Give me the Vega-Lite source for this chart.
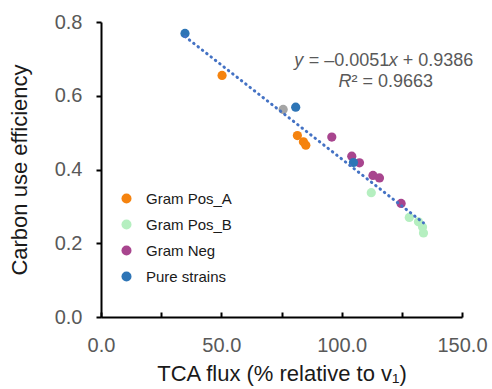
{
  "$schema": "https://vega.github.io/schema/vega-lite/v6.json",
  "width": 361,
  "height": 295,
  "autosize": {"type": "none"},
  "padding": {"left": 101, "top": 22, "right": 30, "bottom": 72},
  "config": {
    "view": {"stroke": null},
    "font": "Liberation Sans",
    "axis": {
      "grid": false,
      "domainColor": "#000000",
      "domainWidth": 2,
      "tickColor": "#000000",
      "tickWidth": 2,
      "labelColor": "#595959",
      "labelFontSize": 20,
      "labelFont": "Liberation Sans",
      "titleFont": "Liberation Sans",
      "titleFontSize": 22,
      "titleFontWeight": "normal",
      "titleColor": "#1a1a1a",
      "labelFlush": false,
      "labelOverlap": false
    }
  },
  "datasets": {
    "pts": [
      {"group": "Pure strains", "tca": 34.9, "cue": 0.769},
      {"group": "Gram Pos_A", "tca": 50.3, "cue": 0.655},
      {"group": "Other", "tca": 75.7, "cue": 0.563},
      {"group": "Pure strains", "tca": 80.9, "cue": 0.569},
      {"group": "Gram Pos_A", "tca": 81.6, "cue": 0.492},
      {"group": "Gram Pos_A", "tca": 84.1, "cue": 0.475},
      {"group": "Gram Pos_A", "tca": 85.1, "cue": 0.466},
      {"group": "Gram Neg", "tca": 95.9, "cue": 0.488},
      {"group": "Gram Neg", "tca": 104.2, "cue": 0.436},
      {"group": "Gram Neg", "tca": 107.4, "cue": 0.418},
      {"group": "Pure strains", "tca": 104.9, "cue": 0.419},
      {"group": "Gram Neg", "tca": 113.0, "cue": 0.384},
      {"group": "Gram Neg", "tca": 115.7, "cue": 0.377},
      {"group": "Gram Pos_B", "tca": 112.3, "cue": 0.337},
      {"group": "Gram Neg", "tca": 124.7, "cue": 0.308},
      {"group": "Gram Pos_B", "tca": 128.1, "cue": 0.270},
      {"group": "Gram Pos_B", "tca": 131.9, "cue": 0.258},
      {"group": "Gram Pos_B", "tca": 133.6, "cue": 0.244},
      {"group": "Gram Pos_B", "tca": 134.0, "cue": 0.228}
    ],
    "trend": [
      {"tca": 34.9, "cue": 0.7606},
      {"tca": 134.0, "cue": 0.2552}
    ]
  },
  "layer": [
    {
      "data": {"name": "pts"},
      "mark": {"type": "circle", "size": 85, "opacity": 1},
      "encoding": {
        "x": {
          "field": "tca", "type": "quantitative",
          "scale": {"domain": [0, 150], "nice": false, "zero": false},
          "axis": {
            "values": [0, 25, 50, 75, 100, 125, 150],
            "labelExpr": "datum.value % 50 === 0 ? format(datum.value, '.1f') : ''",
            "tickSize": -5,
            "labelPadding": 23,
            "titlePadding": 8,
            "title": "TCA flux (% relative to v₁)"
          }
        },
        "y": {
          "field": "cue", "type": "quantitative",
          "scale": {"domain": [0, 0.8], "nice": false},
          "axis": {
            "values": [0, 0.2, 0.4, 0.6, 0.8],
            "format": ".1f",
            "tickSize": 5,
            "labelPadding": 14,
            "titlePadding": 23,
            "title": "Carbon use efficiency"
          }
        },
        "color": {
          "field": "group", "type": "nominal",
          "scale": {
            "domain": ["Gram Pos_A", "Gram Pos_B", "Gram Neg", "Pure strains", "Other"],
            "range": ["#F5830F", "#B5EFC0", "#A8458E", "#2E75B6", "#A5A5A5"]
          },
          "legend": {
            "values": ["Gram Pos_A", "Gram Pos_B", "Gram Neg", "Pure strains"],
            "title": null,
            "orient": "none",
            "legendX": 18,
            "legendY": 169,
            "padding": 0,
            "labelFontSize": 15,
            "labelColor": "#1a1a1a",
            "labelFont": "Liberation Sans",
            "labelOffset": 12,
            "symbolSize": 100,
            "symbolType": "circle",
            "rowPadding": 10
          }
        }
      }
    },
    {
      "data": {"name": "trend"},
      "mark": {"type": "line", "color": "#4472C4", "strokeWidth": 3, "strokeDash": [0.5, 5], "strokeCap": "round"},
      "encoding": {
        "x": {"field": "tca", "type": "quantitative"},
        "y": {"field": "cue", "type": "quantitative"}
      }
    },
    {
      "data": {"values": [{}]},
      "mark": {"type": "text", "text": "y", "fontStyle": "italic", "align": "left", "baseline": "middle", "fontSize": 18, "color": "#595959", "font": "Liberation Sans"},
      "encoding": {"x": {"datum": 80.25, "type": "quantitative"}, "y": {"datum": 0.693, "type": "quantitative"}}
    },
    {
      "data": {"values": [{}]},
      "mark": {"type": "text", "text": "= –0.0051", "align": "left", "baseline": "middle", "fontSize": 18, "color": "#595959", "font": "Liberation Sans"},
      "encoding": {"x": {"datum": 86.3, "type": "quantitative"}, "y": {"datum": 0.693, "type": "quantitative"}}
    },
    {
      "data": {"values": [{}]},
      "mark": {"type": "text", "text": "x", "fontStyle": "italic", "align": "left", "baseline": "middle", "fontSize": 18, "color": "#595959", "font": "Liberation Sans"},
      "encoding": {"x": {"datum": 119.6, "type": "quantitative"}, "y": {"datum": 0.693, "type": "quantitative"}}
    },
    {
      "data": {"values": [{}]},
      "mark": {"type": "text", "text": "+ 0.9386", "align": "left", "baseline": "middle", "fontSize": 18, "color": "#595959", "font": "Liberation Sans"},
      "encoding": {"x": {"datum": 125.4, "type": "quantitative"}, "y": {"datum": 0.693, "type": "quantitative"}}
    },
    {
      "data": {"values": [{}]},
      "mark": {"type": "text", "text": "R", "fontStyle": "italic", "align": "left", "baseline": "middle", "fontSize": 18, "color": "#595959", "font": "Liberation Sans"},
      "encoding": {"x": {"datum": 98.7, "type": "quantitative"}, "y": {"datum": 0.636, "type": "quantitative"}}
    },
    {
      "data": {"values": [{}]},
      "mark": {"type": "text", "text": "² = 0.9663", "align": "left", "baseline": "middle", "fontSize": 18, "color": "#595959", "font": "Liberation Sans"},
      "encoding": {"x": {"datum": 104.1, "type": "quantitative"}, "y": {"datum": 0.636, "type": "quantitative"}}
    }
  ]
}
